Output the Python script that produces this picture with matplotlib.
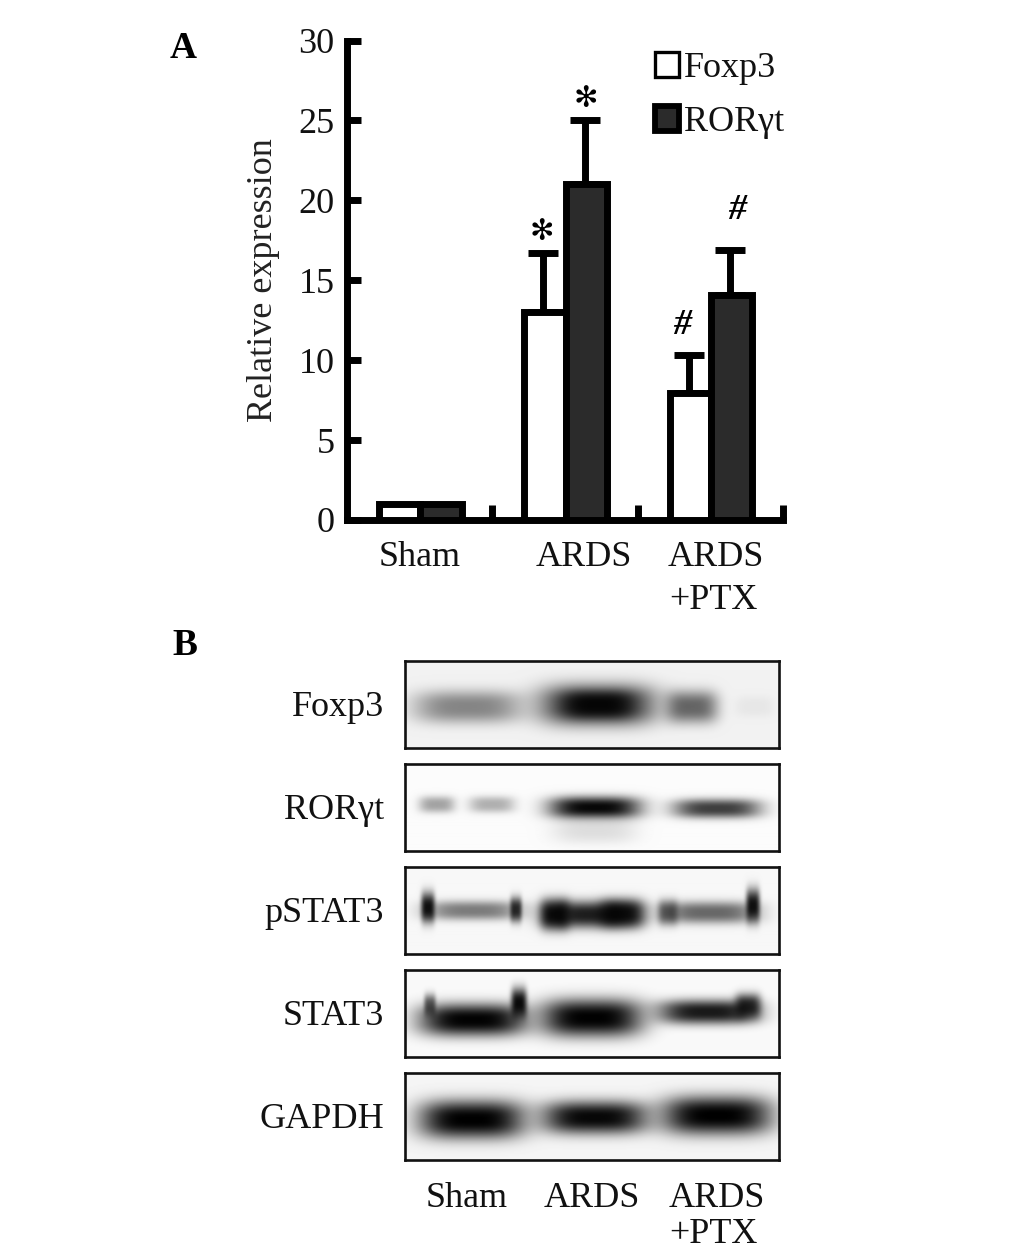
#!/usr/bin/env python3
""" bar chart and western blot panels """
import numpy as np
import matplotlib
matplotlib.use('Agg')
import matplotlib.pyplot as plt
from matplotlib.patches import Patch

W, H = 1033, 1251

# Panel A values
foxp3 = [1.0, 13.0, 7.95]
foxp3_top = [None, 16.7, 10.3]
rorgt = [1.0, 21.0, 14.05]
rorgt_top = [None, 25.05, 16.9]
y_ticks = [0, 5, 10, 15, 20, 25, 30]
group_labels = ['Sham', 'ARDS', 'ARDS', '+PTX']
blot_names = ['Foxp3', 'RORγt', 'pSTAT3', 'STAT3', 'GAPDH']
lane_labels = ['Sham', 'ARDS', 'ARDS', '+PTX']

# Panel B bands: centre x, half width, centre y, sigma y, darkness
foxp3_bands = [(63, 54, 46, 12, 0.45), (193, 58, 44, 15, 0.85), (193, 32, 44, 9, 0.85),
               (287, 26, 46, 12, 0.58), (350, 20, 46, 8, 0.05)]
rorgt_bands = [(32, 18, 41, 6, 0.35), (87, 23, 41, 6, 0.3), (190, 46, 44, 8, 0.97),
               (190, 42, 66, 10, 0.12), (312, 44, 45, 7, 0.75)]
pstat3_bands = [(68, 48, 44, 7, 0.5), (23, 7, 41, 11, 0.92), (111, 6, 43, 9, 0.8),
                (187, 48, 48, 10, 0.88), (150, 15, 48, 11, 0.92), (217, 22, 47, 10, 0.88),
                (305, 48, 46, 8, 0.58), (263, 10, 46, 9, 0.55), (348, 7, 39, 12, 0.92)]
stat3_bands = [(68, 54, 50, 12, 0.99), (114, 8, 33, 11, 0.95), (25, 6, 35, 8, 0.6),
               (187, 51, 48, 14, 0.995), (303, 50, 42, 9, 0.9), (343, 13, 36, 9, 0.8)]
gapdh_bands = [(67, 53, 47, 14, 1.0), (190, 53, 45, 12, 0.97), (312, 55, 43, 14, 1.0)]
all_bands = [foxp3_bands, rorgt_bands, pstat3_bands, stat3_bands, gapdh_bands]
blot_backgrounds = [0.95, 0.985, 0.97, 0.98, 0.96]
box_tops = [661, 764, 867, 970, 1073]

plt.rcParams['font.family'] = ['Liberation Serif', 'DejaVu Sans']
LW = 5.0
FS = 26
DARK = '#2b2b2b'


def px_text(x, y, s, **kw):
    """ text at reference pixel position, y is the baseline """
    kw.setdefault('fontsize', FS)
    kw.setdefault('va', 'baseline')
    kw.setdefault('color', '#111111')
    return fig.text(x / W, 1 - y / H, s, **kw)


def px_axes(x0, y0, x1, y1):
    """ axes from reference pixel box """
    return fig.add_axes([x0 / W, 1 - y1 / H, (x1 - x0) / W, (y1 - y0) / H])


fig = plt.figure(figsize=(W / 100, H / 100), dpi=100, facecolor='white')
px_text(170, 58, 'A', fontsize=27, fontweight='bold', color='black')
px_text(172, 655, 'B', fontsize=27, fontweight='bold', color='black')

# Panel A
ax = px_axes(347, 40.5, 783, 520)
ax.set_xlim(0, 3)
ax.set_ylim(0, 30)
width = 0.284
x = np.arange(3) + 0.505
ax.bar(x - width / 2, foxp3, width, facecolor='white', edgecolor='black',
       linewidth=LW, zorder=3)
ax.bar(x + width / 2, rorgt, width, facecolor=DARK, edgecolor='black',
       linewidth=LW, zorder=4)
for i in range(3):
    if foxp3_top[i] is None:
        continue
    ax.errorbar(x[i] - width / 2 - 0.012, foxp3[i], yerr=[[0], [foxp3_top[i] - foxp3[i]]],
                color='black', elinewidth=LW, capsize=10.5, capthick=LW, zorder=2)
    ax.errorbar(x[i] + width / 2 - 0.012, rorgt[i], yerr=[[0], [rorgt_top[i] - rorgt[i]]],
                color='black', elinewidth=LW, capsize=10.5, capthick=LW, zorder=2)
for side in ['top', 'right']:
    ax.spines[side].set_visible(False)
for side in ['left', 'bottom']:
    ax.spines[side].set_linewidth(LW)
ax.set_yticks(y_ticks)
ax.tick_params(axis='y', direction='in', length=10, width=LW, pad=9, labelsize=FS,
               labelcolor='#111111')
ax.set_xticks([1, 2, 3])
ax.set_xticklabels([])
ax.tick_params(axis='x', direction='in', length=11, width=LW)
for t in ax.xaxis.get_major_ticks() + ax.yaxis.get_major_ticks():
    t.tick1line.set_clip_on(False)
ax.set_ylabel('Relative expression', fontsize=FS, color='#222222', labelpad=13)
ax.patch.set_alpha(0)

handles = [Patch(facecolor='white', edgecolor='black', linewidth=2.4),
           Patch(facecolor=DARK, edgecolor='black', linewidth=4.2)]
ax.legend(handles, ['Foxp3', 'RORγt'], loc='upper left', bbox_to_anchor=(0.706, 0.976),
          frameon=False, fontsize=FS, handlelength=0.68, handleheight=0.68,
          handletextpad=0.14, labelspacing=0.58, borderpad=0, borderaxespad=0,
          labelcolor='#111111')

# significance marks
px_text(542, 240, '✻', fontsize=21, ha='center', color='black', family=['DejaVu Sans'])
px_text(586, 107, '✻', fontsize=21, ha='center', color='black', family=['DejaVu Sans'])
px_text(682, 334, '#', ha='center', color='black', fontweight='bold', style='italic')
px_text(737, 219, '#', ha='center', color='black', fontweight='bold', style='italic')

# category labels under the bars
px_text(420, 566, group_labels[0], ha='center')
px_text(584, 566, group_labels[1], ha='center')
px_text(716, 566, group_labels[2], ha='center')
px_text(713, 609, group_labels[3], ha='center')

# Panel B
for bands, bg, top, name in zip(all_bands, blot_backgrounds, box_tops, blot_names):
    bx = px_axes(405, top, 779, top + 87)
    xx, yy = np.meshgrid(np.arange(374) + 0.5, np.arange(87) + 0.5)
    img = np.full(xx.shape, bg)
    for cx, hw, cy, sy, dark in bands:
        blob = np.exp(-np.abs((xx - cx) / hw) ** 3.5) * np.exp(-np.abs((yy - cy) / sy) ** 2.6 / 2.2)
        img = img * (1 - dark * blob)
    bx.imshow(img, cmap='gray', vmin=0, vmax=1, extent=(0, 374, 87, 0), aspect='auto',
              interpolation='bilinear')
    bx.set_xticks([])
    bx.set_yticks([])
    for s in bx.spines.values():
        s.set_linewidth(1.9)
        s.set_color('#111111')
    px_text(384, top + 55, name, ha='right')

px_text(467, 1207, lane_labels[0], ha='center')
px_text(592, 1207, lane_labels[1], ha='center')
px_text(717, 1207, lane_labels[2], ha='center')
px_text(713, 1243, lane_labels[3], ha='center')

fig.savefig('out.png', dpi=100, facecolor='white')
